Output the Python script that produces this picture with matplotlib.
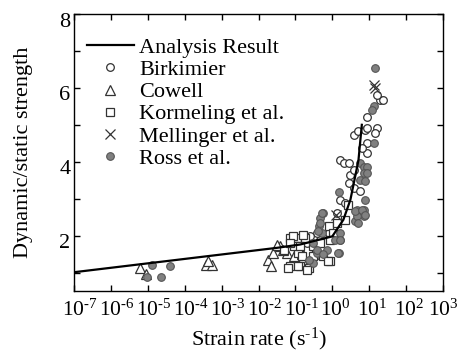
import matplotlib
matplotlib.use('Agg')
import matplotlib.pyplot as plt
import matplotlib.transforms as mtransforms
import numpy as np
from matplotlib.ticker import FixedLocator, MultipleLocator, NullLocator

plt.rcParams['font.family'] = ['Liberation Serif', 'DejaVu Serif']
plt.rcParams['mathtext.fontset'] = 'custom'
plt.rcParams['mathtext.rm'] = 'Liberation Serif'
plt.rcParams['mathtext.it'] = 'Liberation Serif:italic'

# x ticks (decade exponents)
x_exponents = [-7, -6, -5, -4, -3, -2, -1, 0, 1, 2, 3]

# Analysis result curve (log10 strain rate, ratio)
analysis_log = [-7.0, -1.5, -0.87, 0.0, 0.3, 0.49, 0.62, 0.71, 0.8]
analysis_val = [1.01, 1.67, 1.76, 1.98, 2.43, 2.97, 3.6, 4.05, 5.0]

# Birkimier (open circles)
birk_log = [0.94, 0.58, 0.71, 0.89, 1.21, 1.16, 0.94, 1.30, 1.37, 1.21, 0.22, 0.31,
            0.44, 0.49, 0.58, 0.44, 0.58, 0.94, 0.94, 0.80, 0.22, 0.35, 0.13, 0.76,
            -0.69, -0.33, -0.10, -0.42, -0.87, -0.6]
birk_val = [5.2, 4.73, 4.82, 4.86, 4.91, 4.77, 4.91, 5.68, 5.68, 5.81, 4.05, 3.96,
            3.96, 3.65, 3.78, 3.42, 3.29, 4.5, 4.23, 4.37, 2.97, 2.88, 2.61, 3.2,
            1.8, 1.89, 2.07, 2.07, 1.62, 1.98]

# Cowell (open triangles)
cowell_log = [-5.21, -5.06, -3.43, -3.27, -3.36, -1.73, -1.66, -1.60, -1.41,
              -1.23, -1.05, -0.82, -1.51, -1.33, -0.51, -0.83]
cowell_val = [1.13, 0.95, 1.2, 1.2, 1.31, 1.35, 1.17, 1.53, 1.71, 1.53, 1.44, 1.35,
              1.76, 1.62, 1.49, 1.49]

# Kormeling et al. (open squares)
korm_log = [-1.14, -0.96, -0.73, -1.14, -0.87, -0.64, -0.06, -0.24, -0.92, -1.05,
            -0.51, -0.33, -0.10, 0.03, -0.06, -0.82, -1.32, -0.51, -1.06, -0.79,
            -1.15, -0.88, -1.19, -0.92, -0.69, -0.11, 0.43, 0.34, 0.12]
korm_val = [1.94, 1.94, 1.94, 1.17, 1.17, 1.13, 1.31, 1.44, 1.53, 1.71, 1.71, 1.8,
            2.25, 2.07, 1.89, 1.44, 1.62, 1.44, 1.98, 2.03, 1.8, 1.71, 1.13, 1.17,
            1.08, 1.31, 2.84, 2.43, 2.34]

# Mellinger et al. (crosses)
mell_log = [0.10, 1.16, 1.12]
mell_val = [2.57, 5.99, 6.08]

# Ross et al. (grey filled circles)
ross_log = [-4.89, -4.40, -4.64, -5.03, 1.16, 1.12, 1.07, 1.12, 0.17, 0.76, 0.85,
            0.94, 0.85, 0.94, 0.76, 0.89, 0.67, 0.85, 0.89, 0.85, 0.62, -0.24,
            -0.33, -0.37, -0.28, 0.22, 0.17, -0.42, -0.51, -0.64, -0.15, 0.22,
            0.08, 0.67, -0.51, -0.29, -0.33, -0.38, 0.21, 0.16, 0.62, 0.71, -0.42,
            -0.24, 0.80, 0.89]
ross_val = [1.2, 1.17, 0.87, 0.87, 6.53, 5.51, 5.41, 4.5, 3.17, 3.96, 3.87, 3.87,
            3.69, 3.69, 3.51, 3.47, 2.7, 2.7, 2.97, 2.52, 2.39, 2.61, 2.48, 2.25,
            2.07, 1.89, 1.53, 1.53, 1.26, 1.35, 1.62, 2.07, 1.89, 2.52, 1.8, 2.61,
            2.34, 2.12, 1.89, 1.53, 2.66, 2.34, 1.62, 1.49, 2.7, 2.57]


def rate(logs):
    return 10.0 ** np.array(logs)


fig = plt.figure(figsize=(4.6, 3.58), dpi=100)
ax = fig.add_axes([0.161, 0.187, 0.802, 0.774])

ms = 5.5
edge = '#333333'
ax.plot(rate(birk_log), birk_val, 'o', ms=ms, mfc='white', mec=edge, mew=0.9,
        label='Birkimier', zorder=3)
ax.plot(rate(cowell_log), cowell_val, '^', ms=ms + 1, mfc='white', mec=edge, mew=0.9,
        label='Cowell', zorder=3)
ax.plot(rate(korm_log), korm_val, 's', ms=ms, mfc='white', mec=edge, mew=0.9,
        label='Kormeling et al.', zorder=3)
ax.plot(rate(mell_log), mell_val, 'x', ms=ms + 1, mec=edge, mew=0.9,
        label='Mellinger et al.', zorder=3)
ax.plot(rate(ross_log), ross_val, 'o', ms=ms, mfc='#808080', mec='#555555', mew=0.8,
        label='Ross et al.', zorder=3)
ax.plot(rate(analysis_log), analysis_val, '-', color='black', lw=1.6,
        label='Analysis Result', zorder=4)

ax.set_xscale('log')
ax.set_xlim(1e-7, 1e3)
ax.set_ylim(0.5, 8)
ax.xaxis.set_major_locator(FixedLocator(rate(x_exponents)))
ax.xaxis.set_minor_locator(NullLocator())
ax.set_xticklabels([r'$10^{\text{-}%d}$' % -e if e < 0 else r'$10^{%d}$' % e
                    for e in x_exponents])
ax.yaxis.set_major_locator(MultipleLocator(2))
ax.yaxis.set_minor_locator(MultipleLocator(1))

ax.tick_params(which='both', direction='in', top=True, right=True, labelsize=16,
               width=1.0)
ax.tick_params(axis='x', labelsize=15.5, pad=6)
ax.tick_params(axis='y', pad=2.5)
ax.tick_params(which='major', length=4.5)
ax.tick_params(which='minor', length=4.5)
for s in ax.spines.values():
    s.set_linewidth(1.0)

# base "10" sits centred on the tick, exponent hangs to the right
xlabels = ax.get_xticklabels()
for i, lab in enumerate(xlabels):
    dx = -8.5 if i < len(xlabels) - 1 else -10.5
    lab.set_horizontalalignment('left')
    lab.set_transform(lab.get_transform() +
                      mtransforms.ScaledTranslation(dx / 72, 0, fig.dpi_scale_trans))
shift_y = mtransforms.ScaledTranslation(0, 1 / 72, fig.dpi_scale_trans)
for lab in ax.get_yticklabels():
    lab.set_verticalalignment('top')
    lab.set_transform(lab.get_transform() + shift_y)

ax.set_xlabel('Strain rate (s$^{\\text{-}1}$)', fontsize=16, labelpad=4)
ax.set_ylabel('Dynamic/static strength', fontsize=16, labelpad=19)

handles, labels = ax.get_legend_handles_labels()
order = [5, 0, 1, 2, 3, 4]
ax.legend([handles[i] for i in order], [labels[i] for i in order],
          loc='upper left', bbox_to_anchor=(0.035, 0.915), frameon=False,
          fontsize=16, borderpad=0, borderaxespad=0, labelspacing=0.07,
          handlelength=2.1, handletextpad=0.25)

fig.savefig('out.png', dpi=100)
